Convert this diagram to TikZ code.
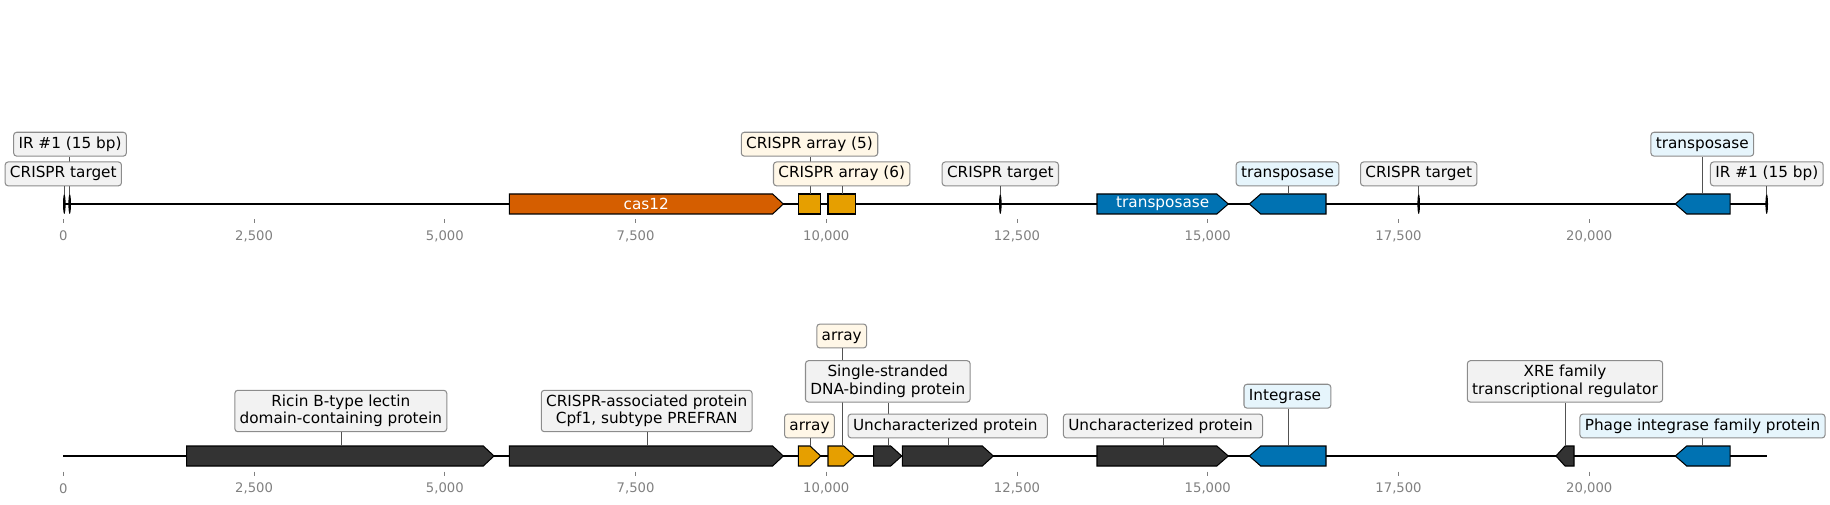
\documentclass[tikz,border=0pt]{standalone}
\usepackage{fontspec}
\setmainfont{DejaVu Sans}
\definecolor{vermil}{HTML}{D55E00}
\definecolor{orng}{HTML}{E69F00}
\definecolor{blu}{HTML}{0072B2}
\definecolor{drk}{HTML}{333333}
\definecolor{lgray}{HTML}{F2F2F2}
\definecolor{lcream}{HTML}{FFF7E7}
\definecolor{lblue}{HTML}{E6F5FC}
\definecolor{edgegray}{HTML}{8C8C8C}
\definecolor{tickgray}{HTML}{808080}
\newcommand{\fwdgene}[5]{% color, x0, xtip, yc, head
  \filldraw[gene, fill=#1] (#2,{#4-10}) -- ({#3-#5},{#4-10}) -- (#3,#4) -- ({#3-#5},{#4+10}) -- (#2,{#4+10}) -- cycle;}
\newcommand{\revgene}[5]{% color, xtip, x1, yc, head
  \filldraw[gene, fill=#1] (#3,{#4-10}) -- ({#2+#5},{#4-10}) -- (#2,#4) -- ({#2+#5},{#4+10}) -- (#3,{#4+10}) -- cycle;}
\newcommand{\boxgene}[4]{% color, x0, x1, yc
  \filldraw[gene, fill=#1] (#2,{#4-10}) rectangle (#3,{#4+10});}
\newcommand{\marker}[2]{% x, yc
  \fill[black] (#1,#2) ellipse [x radius=1.3, y radius=10];}
\begin{document}
\begin{tikzpicture}[x=0.72pt,y=-0.72pt,
  baseline/.style={line width=1.45pt, black},
  gene/.style={draw=black, line width=0.75pt, line join=miter},
  leader/.style={draw=drk!85, line width=0.7pt},
  labbase/.style={draw=edgegray, rounded corners=2.2pt, line width=0.75pt,
    font=\fontsize{11}{12.6}\selectfont, inner xsep=3.5pt, inner ysep=3.1pt, anchor=center},
  lab/.style={labbase, text height=8.4pt, text depth=2.6pt},
  labtwo/.style={labbase, align=center, inner ysep=3.3pt},
  gl/.style={fill=lgray}, yl/.style={fill=lcream}, bl/.style={fill=lblue},
  ticklab/.style={font=\fontsize{9.5}{11}\selectfont, text=tickgray, inner sep=0pt, anchor=center},
  tickmark/.style={draw=tickgray, line width=0.6pt},
  intext/.style={text=white, font=\fontsize{11}{13}\selectfont, inner sep=0pt, anchor=center}]
\useasboundingbox (0,0) rectangle (1830,505);

% ---------------- top track ----------------
\coordinate (tA) at (63.3,203.7);
\coordinate (tB) at (1766.7,203.7);
\draw[baseline] (tA) -- (tB);

\fwdgene{vermil}{509.3}{783.3}{204}{10.7}
\node[intext] (cas) at (646.3,204) {cas12};
\boxgene{orng}{798.3}{820.7}{204}
\boxgene{orng}{828}{855.3}{204}
\fwdgene{blu}{1097}{1228.3}{204}{11.5}
\node[intext] (tp1) at (1162.7,204) {transposase};
\revgene{blu}{1249.3}{1326}{204}{11.4}
\revgene{blu}{1675.3}{1730}{204}{11.4}
\marker{64.3}{204}
\marker{69.7}{204}
\marker{1000.3}{204}
\marker{1418.7}{204}
\marker{1766.7}{204}

\coordinate (fcr1) at (64.3,194);
\coordinate (fir1) at (69.9,194);
\coordinate (fa5) at (810.3,194);
\coordinate (fa6) at (842.3,194);
\coordinate (fcr2) at (1000.3,194);
\coordinate (ftp2) at (1288.7,194);
\coordinate (fcr3) at (1418.7,194);
\coordinate (ftp3) at (1702.3,194);
\coordinate (fir2) at (1766.7,194);

\node[lab,gl] (lir1) at (70,144.2) {IR \#1 (15 bp)};
\draw[leader] (fir1) -- (fir1 |- lir1.south);
\node[lab,gl] (lcr1) at (63.3,173.9) {CRISPR target};
\draw[leader] (fcr1) -- (fcr1 |- lcr1.south);
\node[lab,yl] (la5) at (809.5,144.2) {CRISPR array (5)};
\draw[leader] (fa5) -- (fa5 |- la5.south);
\node[lab,yl] (la6) at (841.7,173.9) {CRISPR array (6)};
\draw[leader] (fa6) -- (fa6 |- la6.south);
\node[lab,gl] (lcr2) at (1000.3,173.9) {CRISPR target};
\draw[leader] (fcr2) -- (fcr2 |- lcr2.south);
\node[lab,bl] (ltp2) at (1287.5,173.9) {transposase};
\draw[leader] (ftp2) -- (ftp2 |- ltp2.south);
\node[lab,gl] (lcr3) at (1418.7,173.9) {CRISPR target};
\draw[leader] (fcr3) -- (fcr3 |- lcr3.south);
\node[lab,bl] (ltp3) at (1702.3,144.2) {transposase};
\draw[leader] (ftp3) -- (ftp3 |- ltp3.south);
\node[lab,gl] (lir2) at (1766.8,173.9) {IR \#1 (15 bp)};
\draw[leader] (fir2) -- (fir2 |- lir2.south);

% ---------------- bottom track ----------------
\coordinate (bA) at (63.3,455.7);
\coordinate (bB) at (1767.3,455.7);
\draw[baseline] (bA) -- (bB);

\fwdgene{drk}{186.7}{494}{456}{10.7}
\fwdgene{drk}{509.3}{783.3}{456}{10.7}
\fwdgene{orng}{798.3}{820.7}{456}{10.7}
\fwdgene{orng}{828}{854.7}{456}{11}
\fwdgene{drk}{873.7}{901.7}{456}{11}
\fwdgene{drk}{902.3}{993.3}{456}{11}
\fwdgene{drk}{1097}{1228.3}{456}{11.5}
\revgene{blu}{1249.3}{1326}{456}{11.4}
\revgene{drk}{1556}{1574}{456}{9}
\revgene{blu}{1675.3}{1730}{456}{11.4}

\coordinate (fri) at (341.7,446);
\coordinate (fcp) at (647.3,446);
\coordinate (far1) at (810.3,446);
\coordinate (far2) at (842.3,446);
\coordinate (fss) at (888.3,446);
\coordinate (fun1) at (948.3,446);
\coordinate (fun2) at (1163.3,446);
\coordinate (fint) at (1288.7,446);
\coordinate (fxre) at (1565.7,446);
\coordinate (fph) at (1702.3,446);

\node[labtwo,gl] (lri) at (340.8,411) {Ricin B-type lectin\\domain-containing protein};
\draw[leader] (fri) -- (fri |- lri.south);
\node[labtwo,gl] (lcp) at (646.7,411) {CRISPR-associated protein\\Cpf1, subtype PREFRAN};
\draw[leader] (fcp) -- (fcp |- lcp.south);
\node[lab,yl] (lar2) at (841.7,336) {array};
\draw[leader] (far2) -- (far2 |- lar2.south);
\node[lab,yl] (lar1) at (809.5,426) {array};
\draw[leader] (far1) -- (far1 |- lar1.south);
\node[labtwo,gl] (lss) at (887.8,381.4) {Single-stranded\\DNA-binding protein};
\draw[leader] (fss) -- (fss |- lss.south);
\node[lab,gl] (lun1) at (947.7,426) {Uncharacterized protein\hspace*{3.5pt}};
\draw[leader] (fun1) -- (fun1 |- lun1.south);
\node[lab,gl] (lun2) at (1163,426) {Uncharacterized protein\hspace*{3.5pt}};
\draw[leader] (fun2) -- (fun2 |- lun2.south);
\node[lab,bl] (lint) at (1287.4,396.2) {Integrase\hspace*{3.5pt}};
\draw[leader] (fint) -- (fint |- lint.south);
\node[labtwo,gl] (lxre) at (1565,381.4) {XRE family\\transcriptional regulator};
\draw[leader] (fxre) -- (fxre |- lxre.south);
\node[lab,bl] (lph) at (1702.5,426) {Phage integrase family protein};
\draw[leader] (fph) -- (fph |- lph.south);

% ---------------- axes ----------------
\foreach \k/\t in {0/0,1/{2,500},2/{5,000},3/{7,500},4/{10,000},5/{12,500},6/{15,000},7/{17,500},8/{20,000}}{
  \coordinate (tt\k) at ({63.3+190.75*\k},219.3);
  \draw[tickmark] (tt\k) -- ++(0,4);
  \node[ticklab] (tl\k) at ({63.3+190.75*\k},236) {\t};
  \coordinate (bt\k) at ({63.3+190.75*\k},471.7);
  \draw[tickmark] (bt\k) -- ++(0,4);
  \node[ticklab] (bl\k) at ({63.3+190.75*\k},488.3) {\t};
}
\end{tikzpicture}
\end{document}
